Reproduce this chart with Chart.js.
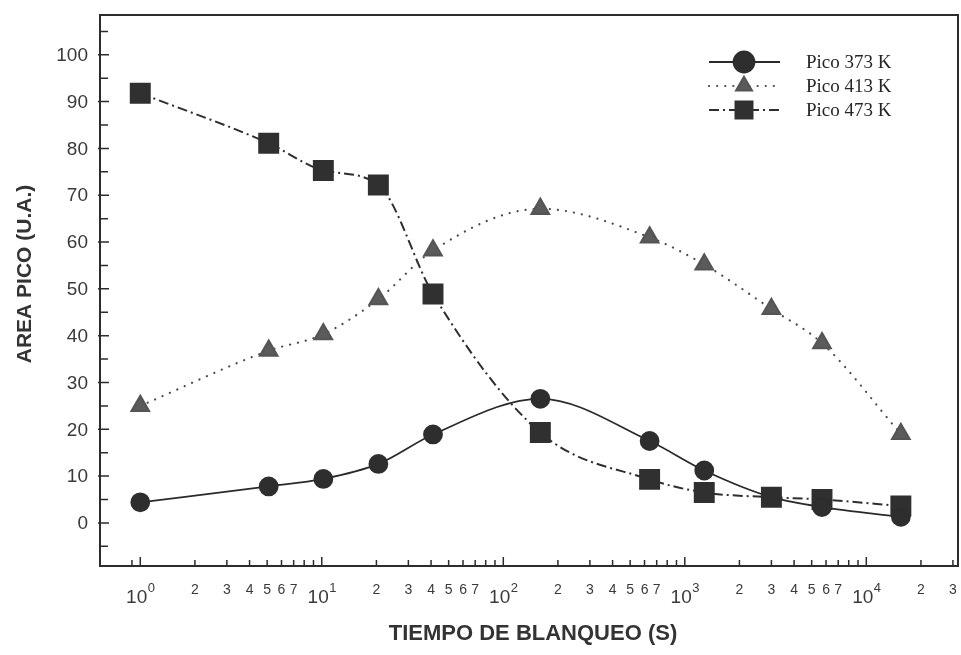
<!DOCTYPE html>
<html>
<head>
<meta charset="utf-8">
<script src="https://cdn.jsdelivr.net/npm/chart.js@4.4.1/dist/chart.umd.min.js"></script>
<style>
  html, body { margin: 0; padding: 0; background: #ffffff; }
  #wrap { width: 961px; height: 655px; }
</style>
</head>
<body>
<div id="wrap"><canvas id="c" width="961" height="655"></canvas></div>
<script>
// Bleaching time (s) and peak areas (arbitrary units) for three TL peaks
const times   = [1, 5.1, 10.2, 20.5, 41, 160, 640, 1280, 3000, 5700, 15500];
const pico373 = [4.4, 7.8, 9.4, 12.6, 18.9, 26.5, 17.5, 11.2, 5.5, 3.4, 1.3];
const pico413 = [25.0, 36.8, 40.3, 47.8, 58.2, 67.1, 61.0, 55.2, 45.7, 38.4, 19.0];
const pico473 = [91.8, 81.1, 75.3, 72.2, 48.9, 19.3, 9.3, 6.5, 5.5, 5.0, 3.6];

const seriesNames = ['Pico 373 K', 'Pico 413 K', 'Pico 473 K'];
const yMajorTicks = [0, 10, 20, 30, 40, 50, 60, 70, 80, 90, 100];
const yMinorTicks = [-5, 5, 15, 25, 35, 45, 55, 65, 75, 85, 95, 105];
const xDecades = [0, 1, 2, 3, 4];
const xMinorLabels = [2, 3, 4, 5, 6, 7];

const SANS = '"Liberation Sans", Arial, sans-serif';
const SERIF = '"Liberation Serif", "Times New Roman", serif';
const INK = '#2c2c2c';

function pts(vals) {
  return times.map((t, i) => ({ x: t, y: vals[i] }));
}

// Frame, inward ticks, tick labels, axis titles
const axesPlugin = {
  id: 'axesPlugin',
  beforeDatasetsDraw(chart) {
    const ctx = chart.ctx;
    const a = chart.chartArea;
    const xs = chart.scales.x, ys = chart.scales.y;
    ctx.save();
    ctx.strokeStyle = INK;
    ctx.lineWidth = 2;
    ctx.strokeRect(a.left, a.top, a.right - a.left, a.bottom - a.top);

    // y ticks (inward)
    ctx.lineWidth = 1.5;
    ctx.beginPath();
    yMajorTicks.forEach(v => {
      const y = ys.getPixelForValue(v);
      ctx.moveTo(a.left - 2, y); ctx.lineTo(a.left + 9, y);
    });
    yMinorTicks.forEach(v => {
      const y = ys.getPixelForValue(v);
      ctx.moveTo(a.left, y); ctx.lineTo(a.left + 8, y);
    });
    // x ticks (inward)
    xDecades.forEach(e => {
      const x = xs.getPixelForValue(Math.pow(10, e));
      ctx.moveTo(x, a.bottom); ctx.lineTo(x, a.bottom - 9);
    });
    const minorX = [0.9];
    for (let e = 0; e <= 3; e++) for (let m = 2; m <= 9; m++) minorX.push(m * Math.pow(10, e));
    minorX.push(2e4, 3e4);
    minorX.forEach(v => {
      const x = xs.getPixelForValue(v);
      ctx.moveTo(x, a.bottom); ctx.lineTo(x, a.bottom - 6);
    });
    ctx.stroke();
    ctx.restore();
  },
  afterDraw(chart) {
    const ctx = chart.ctx;
    const a = chart.chartArea;
    const xs = chart.scales.x, ys = chart.scales.y;
    ctx.save();
    ctx.fillStyle = '#3a3a3a';

    // y tick labels
    ctx.font = '19px ' + SANS;
    ctx.textAlign = 'right';
    ctx.textBaseline = 'middle';
    yMajorTicks.forEach(v => {
      ctx.fillText(String(v), a.left - 12, ys.getPixelForValue(v) + 1);
    });

    // x decade labels 10^n
    ctx.textAlign = 'left';
    xDecades.forEach(e => {
      const x = xs.getPixelForValue(Math.pow(10, e));
      ctx.font = '19px ' + SANS;
      const wBase = ctx.measureText('10').width;
      ctx.font = '13px ' + SANS;
      const wSup = ctx.measureText(String(e)).width;
      const x0 = x - (wBase + wSup) / 2;
      ctx.font = '19px ' + SANS;
      ctx.fillText('10', x0, a.bottom + 32);
      ctx.font = '13px ' + SANS;
      ctx.fillText(String(e), x0 + wBase + 0.5, a.bottom + 22);
    });

    // x minor labels
    ctx.font = '14px ' + SANS;
    ctx.textAlign = 'center';
    const minorLab = [];
    for (let e = 0; e <= 3; e++) xMinorLabels.forEach(m => minorLab.push([m, m * Math.pow(10, e)]));
    minorLab.push([2, 2e4], [3, 3e4]);
    minorLab.forEach(([m, v]) => {
      ctx.fillText(String(m), xs.getPixelForValue(v), a.bottom + 24);
    });

    // axis titles
    ctx.fillStyle = '#333333';
    ctx.font = 'bold 22px ' + SANS;
    ctx.textAlign = 'center';
    ctx.fillText('TIEMPO DE BLANQUEO (S)', 533, 634);
    ctx.save();
    ctx.translate(25, 274);
    ctx.rotate(-Math.PI / 2);
    ctx.font = 'bold 21px ' + SANS;
    ctx.fillText('AREA PICO (U.A.)', 0, 0);
    ctx.restore();

    // legend built from the dataset styles
    const rows = [62, 86, 110];
    chart.data.datasets.forEach((ds, i) => {
      const y = rows[i];
      ctx.save();
      ctx.strokeStyle = ds.borderColor;
      ctx.lineWidth = ds.borderWidth;
      ctx.lineCap = ds.borderCapStyle || 'butt';
      ctx.setLineDash(ds.borderDash || []);
      ctx.beginPath();
      ctx.moveTo(709, y); ctx.lineTo(780, y);
      ctx.stroke();
      ctx.setLineDash([]);
      ctx.fillStyle = ds.pointBackgroundColor;
      ctx.strokeStyle = ds.pointBorderColor;
      Chart.helpers.drawPoint(ctx, {
        pointStyle: ds.pointStyle,
        radius: ds.legendRadius,
        rotation: 0,
        borderWidth: 1
      }, 744, y);
      ctx.restore();
      ctx.fillStyle = '#262626';
      ctx.font = '19px ' + SERIF;
      ctx.textAlign = 'left';
      ctx.textBaseline = 'middle';
      ctx.fillText(ds.label, 806, y + 1);
    });
    ctx.restore();
  }
};

new Chart(document.getElementById('c'), {
  type: 'line',
  data: {
    datasets: [
      {
        label: seriesNames[0],
        data: pts(pico373),
        borderColor: '#2a2a2a',
        borderWidth: 1.8,
        pointStyle: 'circle',
        pointRadius: 9,
        legendRadius: 10.5,
        pointBackgroundColor: '#2e2e2e',
        pointBorderColor: '#2e2e2e',
        cubicInterpolationMode: 'monotone'
      },
      {
        label: seriesNames[1],
        data: pts(pico413),
        borderColor: '#4a4a4a',
        borderWidth: 2.2,
        borderDash: [0.1, 8],
        borderCapStyle: 'round',
        pointStyle: 'triangle',
        pointRadius: 10,
        legendRadius: 9,
        pointBackgroundColor: '#5b5b5b',
        pointBorderColor: '#555555',
        cubicInterpolationMode: 'monotone'
      },
      {
        label: seriesNames[2],
        data: pts(pico473),
        borderColor: '#2e2e2e',
        borderWidth: 2,
        borderDash: [10, 4, 2, 4],
        pointStyle: 'rect',
        pointRadius: 13.4,
        legendRadius: 12,
        pointBackgroundColor: '#303030',
        pointBorderColor: '#303030',
        cubicInterpolationMode: 'monotone'
      }
    ]
  },
  options: {
    responsive: false,
    animation: false,
    devicePixelRatio: 1,
    layout: { autoPadding: false, padding: { left: 100, top: 15, right: 3, bottom: 89 } },
    plugins: { legend: { display: false }, tooltip: { enabled: false } },
    elements: { point: { borderWidth: 1, hoverRadius: 9 } },
    clip: false,
    scales: {
      x: { type: 'logarithmic', min: 0.6, max: 32000, display: false },
      y: { type: 'linear', min: -9.2, max: 108.5, display: false }
    }
  },
  plugins: [axesPlugin]
});
</script>
</body>
</html>
